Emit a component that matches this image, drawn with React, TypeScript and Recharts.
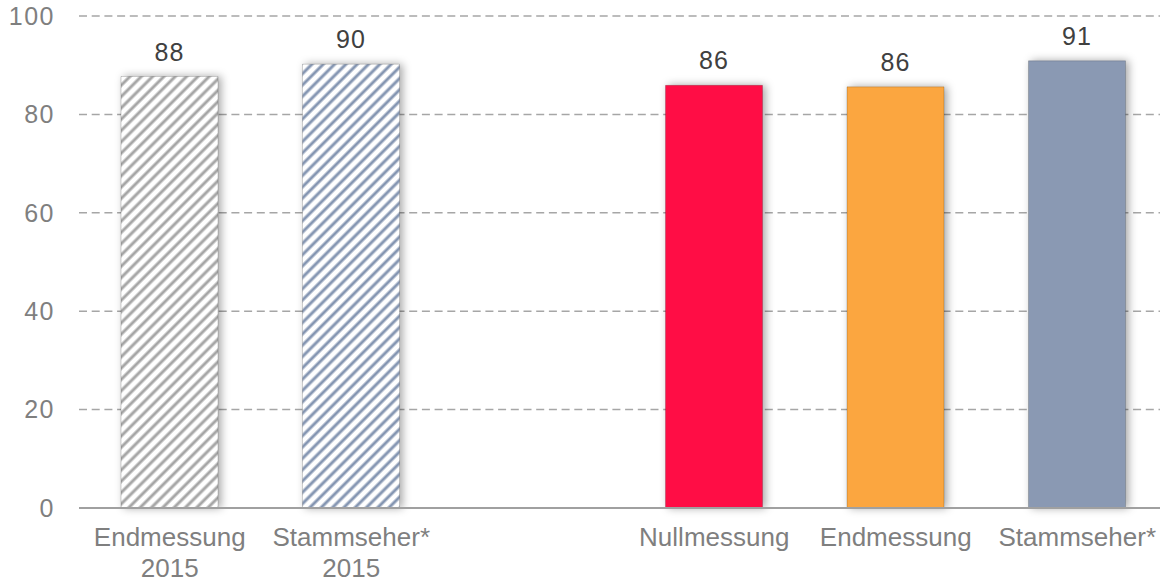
import { BarChart, Bar, XAxis, YAxis, CartesianGrid, Cell, LabelList } from "recharts";

const categories = ["Endmessung\n2015", "Stammseher*\n2015", "", "Nullmessung", "Endmessung", "Stammseher*"];
const values = [87.7, 90.2, null, 85.9, 85.6, 90.9];
const fills = ["url(#hatchGrey)", "url(#hatchBlue)", "transparent", "#FF0D45", "#FBA63F", "#8A99B3"];
const yTicks = [0, 20, 40, 60, 80, 100];

const data = categories.map((name, i) => ({ name, value: values[i] }));

const FONT = "'Liberation Sans', Arial, sans-serif";

function CategoryTick({ x, y, payload }: any) {
  const lines = String(payload.value).split("\n");
  return (
    <text x={x} y={y} textAnchor="middle" fill="#7f7f7f" fontSize={26} fontFamily={FONT}>
      {lines.map((line, i) => (
        <tspan key={i} x={x} dy={i === 0 ? 30 : 31}>
          {line}
        </tspan>
      ))}
    </text>
  );
}

export default function App() {
  return (
    <div style={{ position: "absolute", left: 0, top: 0, width: 1160, height: 583, overflow: "hidden", background: "#fff" }}>
      <BarChart
        width={1168}
        height={583}
        data={data}
        margin={{ top: 16, right: 0, bottom: 0, left: 0 }}
      >
        <defs>
          <pattern id="hatchGrey" patternUnits="userSpaceOnUse" width={8} height={8} patternTransform="rotate(45)">
            <rect width={8} height={8} fill="#fff" />
            <line x1={2} y1={0} x2={2} y2={8} stroke="#a6a6a6" strokeWidth={3} />
          </pattern>
          <pattern id="hatchBlue" patternUnits="userSpaceOnUse" width={8} height={8} patternTransform="rotate(45)">
            <rect width={8} height={8} fill="#fff" />
            <line x1={2} y1={0} x2={2} y2={8} stroke="#8596b2" strokeWidth={3} />
          </pattern>
          <filter id="barShadow" x="-30%" y="-20%" width="160%" height="140%">
            <feDropShadow dx={3} dy={0} stdDeviation={4.5} floodColor="#000" floodOpacity={0.35} />
          </filter>
        </defs>
        <CartesianGrid vertical={false} stroke="#a6a6a6" strokeDasharray="8 4.7" strokeWidth={1.5} />
        <XAxis
          dataKey="name"
          interval={0}
          tickLine={false}
          axisLine={{ stroke: "#a0a0a0", strokeWidth: 2 }}
          tick={<CategoryTick />}
          height={75}
        />
        <YAxis
          domain={[0, 100]}
          ticks={yTicks}
          width={79}
          tickLine={false}
          axisLine={false}
          tickSize={0}
          tickMargin={24}
          tick={{ fill: "#7f7f7f", fontSize: 25, fontFamily: FONT, letterSpacing: 1.5 }}
        />
        <Bar dataKey="value" barSize={97} isAnimationActive={false} filter="url(#barShadow)">
          {data.map((d, i) => (
            <Cell key={i} fill={fills[i]} stroke="rgba(0,0,0,0.18)" strokeWidth={1} />
          ))}
          <LabelList
            dataKey="value"
            position="top"
            offset={16}
            formatter={(v: any) => (v == null ? "" : Math.round(v))}
            fill="#404040"
            fontSize={25}
            fontFamily={FONT}
            letterSpacing={1}
          />
        </Bar>
      </BarChart>
    </div>
  );
}
